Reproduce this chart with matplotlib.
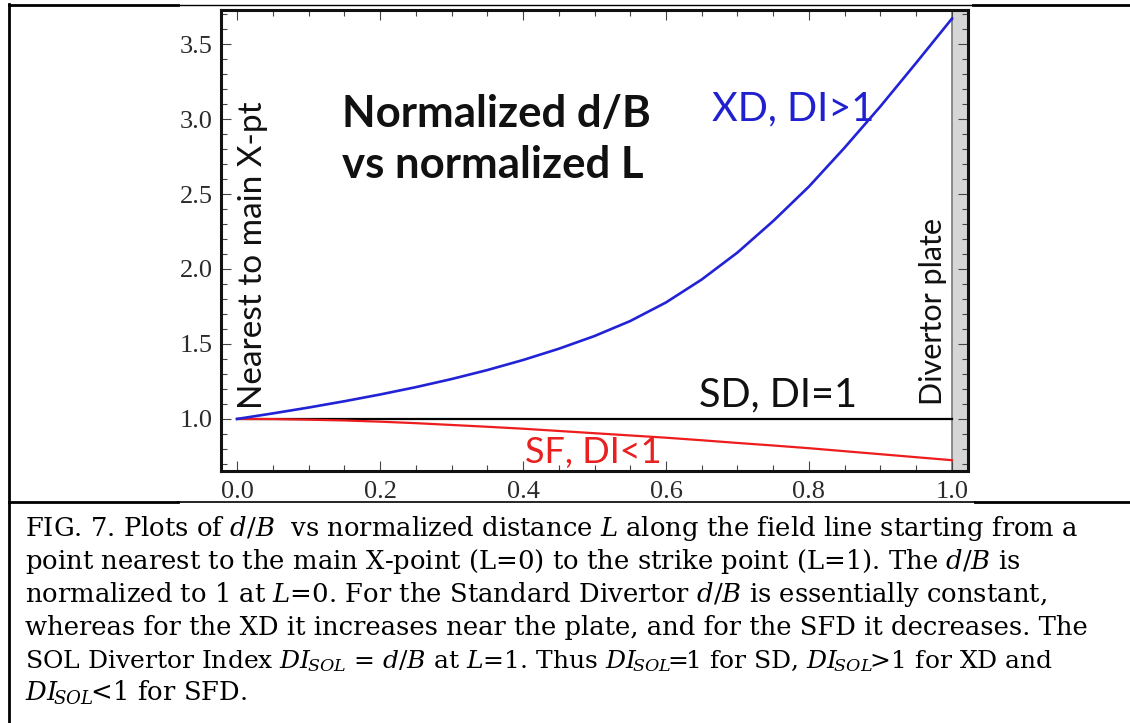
import matplotlib
matplotlib.use("Agg")
import matplotlib.pyplot as plt
from matplotlib.ticker import MultipleLocator
from matplotlib.lines import Line2D

# ---------------- data ----------------
L = [0.0, 0.05, 0.1, 0.15, 0.2, 0.25, 0.3, 0.35, 0.4, 0.45, 0.5,
     0.55, 0.6, 0.65, 0.7, 0.75, 0.8, 0.85, 0.9, 0.95, 1.0]
xd = [1.000, 1.037, 1.076, 1.118, 1.163, 1.212, 1.266, 1.326, 1.393, 1.468, 1.553,
      1.653, 1.777, 1.930, 2.110, 2.320, 2.550, 2.810, 3.085, 3.375, 3.670]
sd = [1.0] * len(L)
sf = [1.0, 0.999, 0.995, 0.99, 0.982, 0.972, 0.960, 0.948, 0.935, 0.920, 0.905,
      0.890, 0.875, 0.858, 0.840, 0.823, 0.805, 0.785, 0.765, 0.745, 0.725]
x_ticks = [0.0, 0.2, 0.4, 0.6, 0.8, 1.0]
x_ticklabels = ["0.0", "0.2", "0.4", "0.6", "0.8", "1.0"]
y_ticks = [1.0, 1.5, 2.0, 2.5, 3.0, 3.5]
y_ticklabels = ["1.0", "1.5", "2.0", "2.5", "3.0", "3.5"]

caption_lines = [
    r"FIG. 7. Plots of $d/B$  vs normalized distance $L$ along the field line starting from a",
    r"point nearest to the main X-point (L=0) to the strike point (L=1). The $d/B$ is",
    r"normalized to 1 at $L$=0. For the Standard Divertor $d/B$ is essentially constant,",
    r"whereas for the XD it increases near the plate, and for the SFD it decreases. The",
    r"SOL Divertor Index $DI_{\!SOL}$ = $d/B$ at $L$=1. Thus $DI_{\!SOL}\!\!=\!\!\mathit{1}$ for SD, $DI_{\!SOL}\!\!>\!\mathit{1}$ for XD and",
    r"$DI_{\!SOL}\!\!<\!\mathit{1}$ for SFD.",
]
caption_sizes = [18.6, 18.6, 18.6, 18.6, 18.0, 18.6]

# ---------------- style ----------------
plt.rcParams["mathtext.fontset"] = "custom"
plt.rcParams["mathtext.it"] = "DejaVu Serif:italic"
plt.rcParams["mathtext.rm"] = "DejaVu Serif"
plt.rcParams["mathtext.cal"] = "DejaVu Serif:italic"

W, H = 1130, 723
fig = plt.figure(figsize=(W / 100, H / 100), dpi=100)
fig.patch.set_facecolor("white")

def fx(px):
    return px / W

def fy(py):
    return 1 - py / H

ax = fig.add_axes([fx(221), fy(471), fx(968) - fx(221), fy(10) - fy(471)])
ax.set_xlim(-0.0224, 1.0224)
ax.set_ylim(0.653, 3.727)

# divertor plate band
ax.axvspan(1.0, 1.0224, color="#d6d6d6", zorder=0)
ax.axvline(1.0, color="#7a7a7a", lw=1.2, zorder=1)

ax.plot(L, sd, color="black", lw=1.6, zorder=3)
ax.plot(L, sf, color="#ee1c1c", lw=1.6, zorder=4)
ax.plot(L, xd, color="#2222d6", lw=1.9, zorder=5, solid_joinstyle="round")

for s in ax.spines.values():
    s.set_linewidth(2.2)
    s.set_color("#111111")

ax.set_xticks(x_ticks)
ax.set_xticklabels(x_ticklabels)
ax.set_yticks(y_ticks)
ax.set_yticklabels(y_ticklabels)
ax.xaxis.set_minor_locator(MultipleLocator(0.05))
ax.yaxis.set_minor_locator(MultipleLocator(0.1))
ax.tick_params(which="both", direction="in", top=True, right=True,
               color="#444444", width=0.8)
ax.tick_params(which="major", length=7)
ax.tick_params(which="minor", length=4)
ax.tick_params(axis="x", which="major", pad=7)
ax.tick_params(axis="y", which="major", pad=6)
for lab in ax.get_xticklabels() + ax.get_yticklabels():
    lab.set_fontfamily("Liberation Serif")
    lab.set_fontsize(19)
    lab.set_color("#2a2a2a")

def dx(px):
    return (px - 237) / 715.0

def dy(py):
    return 1 + (419 - py) / 150.0

ax.text(dx(342), dy(127), "Normalized d/B", family="Lato", weight="bold",
        fontsize=31.5, color="#111111", ha="left", va="baseline")
ax.text(dx(342), dy(178), "vs normalized L", family="Lato", weight="bold",
        fontsize=31.5, color="#111111", ha="left", va="baseline")
ax.text(dx(712), dy(120), "XD, DI>1", family="Lato", fontsize=28.5,
        color="#2020d0", ha="left", va="baseline")
ax.text(dx(699), dy(407), "SD, DI=1", family="Lato", fontsize=28.5,
        color="#111111", ha="left", va="baseline")
ax.text(dx(525), dy(463), "SF, DI<1", family="Lato", fontsize=26,
        color="#e82020", ha="left", va="baseline")
ax.text(dx(262), dy(409), "Nearest to main X-pt", family="Lato", fontsize=24,
        color="#111111", rotation=90, rotation_mode="anchor",
        ha="left", va="baseline")
ax.text(dx(942), dy(405), "Divertor plate", family="Lato", fontsize=22,
        color="#111111", rotation=90, rotation_mode="anchor",
        ha="left", va="baseline")

# ---------------- document frame ----------------
def hline(y, x0, x1, lw):
    fig.add_artist(Line2D([fx(x0), fx(x1)], [fy(y), fy(y)], color="black",
                          lw=lw, transform=fig.transFigure))

hline(5, 9, 178, 2.0)
hline(5, 178, 973, 1.0)
hline(5, 973, 1130, 2.0)
hline(502, 9, 178, 2.0)
hline(502, 178, 975, 1.2)
hline(502, 975, 1130, 2.0)
fig.add_artist(Line2D([fx(9), fx(9)], [fy(4), fy(723)], color="black",
                      lw=2.0, transform=fig.transFigure))

# ---------------- caption ----------------
base0, step = 536, 32.9
for i, line in enumerate(caption_lines):
    fig.text(fx(25), fy(base0 + i * step), line, family="DejaVu Serif",
             fontsize=caption_sizes[i], color="black", ha="left", va="baseline")

fig.savefig("out.png", dpi=100, facecolor="white")
